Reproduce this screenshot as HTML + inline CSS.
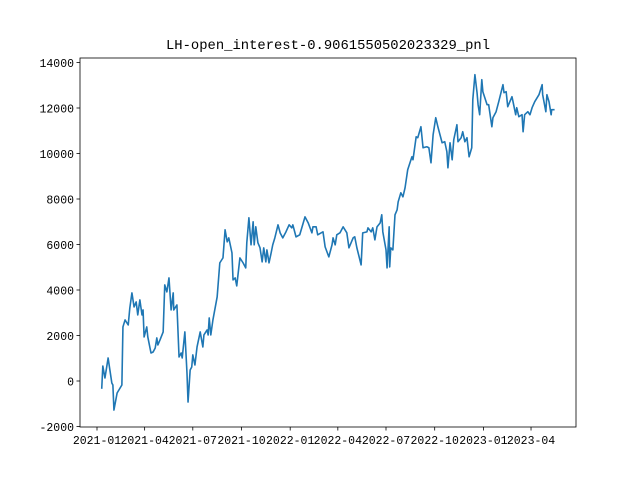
<!DOCTYPE html>
<html><head><meta charset="utf-8"><style>
body{margin:0;background:#fff}
svg{display:block;font-family:"Liberation Mono","WenQuanYi Zen Hei",monospace}
</style></head><body>
<svg id="chart" width="640" height="480">
<rect width="640" height="480" fill="#fff"/>
<text x="328" y="49" font-size="14" text-anchor="middle" textLength="324" lengthAdjust="spacingAndGlyphs">LH-open_interest-0.9061550502023329_pnl</text>
<g id="axes"></g>
</svg>
<script>
const days = [9,11,15,21,28,30,32,38,47,49,53,59,62,66,70,74,77,81,85,87,89,94,96,102,106,110,113,115,119,125,128,132,136,140,144,145,151,155,159,161,166,170,172,176,179,181,185,189,195,200,202,208,210,212,215,219,227,232,238,242,246,249,255,257,261,264,270,276,281,283,287,291,295,297,300,304,308,312,315,319,321,325,329,332,336,342,346,351,357,363,368,370,376,383,393,399,406,408,414,417,427,431,438,444,446,450,453,459,465,472,476,480,484,487,491,499,502,510,512,518,521,525,529,535,538,540,546,548,552,553,555,559,563,567,569,574,578,582,587,595,597,603,606,612,616,623,627,631,635,640,644,652,657,661,663,667,671,674,680,682,688,691,695,699,703,708,710,714,718,720,723,727,729,737,740,746,748,754,759,767,769,773,776,784,786,791,793,797,803,805,808,814,818,822,827,835,841,842,848,850,854,858,859,863];
const pnl = [-308,660,132,1012,-88,-176,-1276,-528,-176,2376,2684,2464,3212,3872,3256,3476,2904,3564,2904,3124,1936,2376,1936,1232,1276,1452,1892,1584,1804,2156,4224,3916,4532,3124,3872,3124,3344,1056,1232,1012,2156,352,-924,484,616,1144,704,1496,2156,1496,2024,2244,2024,2772,2024,2684,3696,5192,5412,6644,6116,6292,5632,4444,4532,4180,5412,5192,4972,6072,7172,5984,6996,5984,6776,6072,5852,5236,5852,5236,5764,5192,5632,5984,6292,6864,6512,6292,6556,6864,6732,6864,6336,6424,7216,6952,6512,6776,6776,6424,6556,5896,5456,5984,6292,5984,6424,6512,6776,6512,5852,6072,6292,6336,5852,5104,6512,6556,6732,6556,6732,6204,6776,6952,7304,6556,5764,4972,6776,5016,5852,5764,7304,7524,7876,8272,8096,8492,9284,9856,9724,10736,10692,11176,10252,10296,10252,9592,10824,11572,11176,10472,10516,10076,9372,10472,9724,10604,11264,10516,10692,10956,10516,10692,9856,10252,12364,13464,12672,12144,11704,13244,12716,12144,12144,11176,11572,11836,12276,13024,12672,12716,12056,12496,12276,11704,12012,11616,11704,10956,11704,11836,11704,12012,12276,12584,13024,12584,11836,12584,12276,11704,11924,11924];
const yTicks = [-2000,0,2000,4000,6000,8000,10000,12000,14000];
const xTickDays = [0,90,181,273,365,455,546,638,730,820];
const xTickLabels = ["2021-01","2021-04","2021-07","2021-10","2022-01","2022-04","2022-07","2022-10","2023-01","2023-04"];

const NS="http://www.w3.org/2000/svg";
const L=80,R=576,T=58,B=427;
function xs(d){return 97+d*0.5293;}
function ys(v){return 381-v*0.02275;}
const g=document.getElementById('axes');
function mk(tag,attrs){const e=document.createElementNS(NS,tag);for(const k in attrs)e.setAttribute(k,attrs[k]);g.appendChild(e);return e;}

let d='';
for(let i=0;i<days.length;i++){d+=(i?'L':'M')+xs(days[i]).toFixed(2)+' '+ys(pnl[i]).toFixed(2);}
const line=mk('path',{d:d,fill:'none',stroke:'#1f77b4','stroke-width':1.6,'stroke-linejoin':'round','stroke-linecap':'square'});



const frame=mk('rect',{x:L,y:T,width:R-L,height:B-T,fill:'none',stroke:'#000','stroke-width':0.8});



yTicks.forEach(v=>{
  const y=ys(v);
  const t=mk('line',{x1:L-3.5,x2:L,y1:y,y2:y,stroke:'#000','stroke-width':0.8});
  
  
  const tx=mk('text',{x:L-6,y:y+4.5,'font-size':11.5,'text-anchor':'end'});
  tx.textContent=v;
  
  
});
xTickDays.forEach((dd,i)=>{
  const x=xs(dd);
  const t=mk('line',{x1:x,x2:x,y1:B,y2:B+3.5,stroke:'#000','stroke-width':0.8});
  
  
  const tx=mk('text',{x:x,y:B+17,'font-size':11.5,'text-anchor':'middle'});
  tx.textContent=xTickLabels[i];
  
  
});
</script>
</body></html>
